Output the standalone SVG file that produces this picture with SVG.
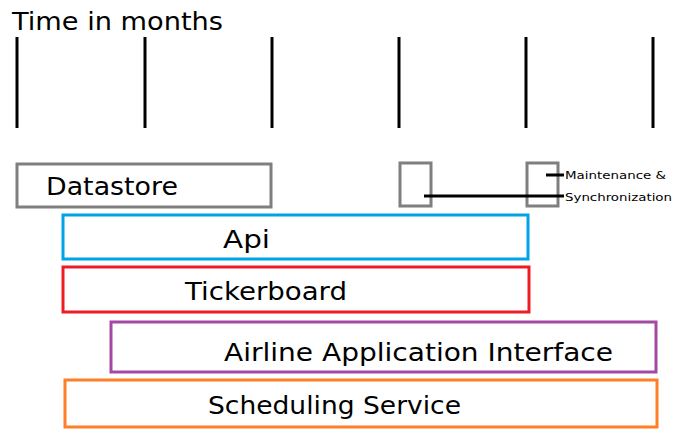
<svg xmlns="http://www.w3.org/2000/svg" width="682" height="443" viewBox="0 0 682 443">
<style>
text{font-family:"DejaVu Sans","Open Sans",sans-serif;fill:#000}
.big{font-size:24px}
.sm{font-size:11px}
.tick{stroke:#000;stroke-width:3}
.box{fill:none;stroke-width:3}
.conn{stroke:#000;stroke-width:3}
</style>
<rect width="682" height="443" fill="#fff"/>
<text class="big" x="12" y="30" textLength="211" lengthAdjust="spacingAndGlyphs">Time in months</text>
<g id="timeline">
<line class="tick" x1="17" y1="37" x2="17" y2="128"/>
<line class="tick" x1="145" y1="37" x2="145" y2="128"/>
<line class="tick" x1="272" y1="37" x2="272" y2="128"/>
<line class="tick" x1="399" y1="37" x2="399" y2="128"/>
<line class="tick" x1="526" y1="37" x2="526" y2="128"/>
<line class="tick" x1="653" y1="37" x2="653" y2="128"/>
</g>
<g id="datastore">
<rect class="box" stroke="#7f7f7f" x="17" y="164" width="254" height="43"/>
<text class="big" x="46" y="195" textLength="132" lengthAdjust="spacingAndGlyphs">Datastore</text>
</g>
<g id="maint1"><rect class="box" stroke="#7f7f7f" x="400" y="163" width="31" height="43"/></g>
<g id="maint2"><rect class="box" stroke="#7f7f7f" x="527" y="163" width="31" height="43"/></g>
<g id="connectors">
<line class="conn" x1="424" y1="196" x2="564" y2="196"/>
<line class="conn" x1="546" y1="175" x2="564" y2="175"/>
</g>
<g id="maint-label">
<text class="sm" x="565" y="179" textLength="101" lengthAdjust="spacingAndGlyphs">Maintenance &amp;</text>
<text class="sm" x="565" y="201" textLength="107" lengthAdjust="spacingAndGlyphs">Synchronization</text>
</g>
<g id="api">
<rect class="box" stroke="#00a2e8" x="63" y="215" width="465" height="44"/>
<text class="big" x="223" y="248" textLength="47" lengthAdjust="spacingAndGlyphs">Api</text>
</g>
<g id="tickerboard">
<rect class="box" stroke="#ed1c24" x="63" y="267" width="466" height="45"/>
<text class="big" x="185" y="300" textLength="162" lengthAdjust="spacingAndGlyphs">Tickerboard</text>
</g>
<g id="airline">
<rect class="box" stroke="#a349a4" x="111" y="322" width="545" height="50"/>
<text class="big" x="224" y="361" textLength="389" lengthAdjust="spacingAndGlyphs">Airline Application Interface</text>
</g>
<g id="scheduling">
<rect class="box" stroke="#ff7f27" x="65" y="380" width="592" height="47"/>
<text class="big" x="208" y="414" textLength="253" lengthAdjust="spacingAndGlyphs">Scheduling Service</text>
</g>
</svg>
